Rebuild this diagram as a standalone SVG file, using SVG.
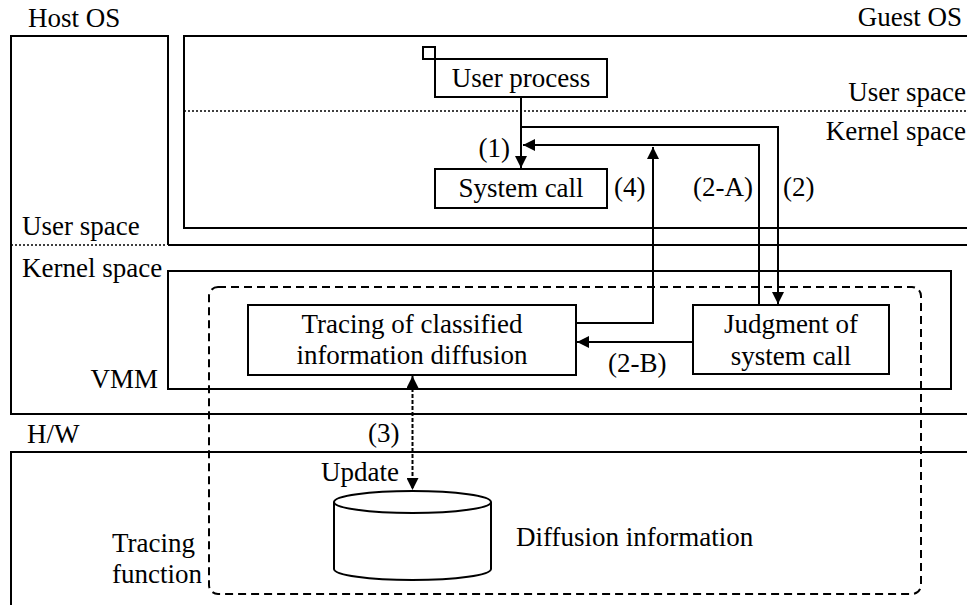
<svg xmlns="http://www.w3.org/2000/svg" width="967" height="605" viewBox="0 0 967 605" font-family="Liberation Serif, DejaVu Serif, serif" font-size="27">
<style>
.m{text-anchor:middle}
.e{text-anchor:end}
.ln{fill:none;stroke:#000;stroke-width:2}
.box{fill:#fff;stroke:#000;stroke-width:2}
.dot{fill:none;stroke:#000;stroke-width:1.6;stroke-dasharray:2 2}
.dash{fill:none;stroke:#000;stroke-width:2;stroke-dasharray:8 5}
.fdash{fill:none;stroke:#000;stroke-width:2;stroke-dasharray:4 2}
</style>
<defs>
<marker id="ah" viewBox="0 0 12 12" refX="12" refY="6" markerWidth="12" markerHeight="12" markerUnits="userSpaceOnUse" orient="auto-start-reverse">
<path d="M0,0 L12,6 L0,12 z" fill="#000" stroke="none"/>
</marker>
</defs>
<g id="host-os">
<path class="ln" d="M168,245 V36 H11 V414 H967"/>
<path class="ln" d="M168,245 H967"/>
<path class="dot" d="M11,245 H166"/>
<text x="28" y="27" font-family="Liberation Serif, serif">Host OS</text>
<text x="22" y="235">User space</text>
<text x="22" y="277">Kernel space</text>
</g>
<g id="guest-os">
<path class="ln" d="M967,36 H184 V228 H967"/>
<path class="dot" d="M184,111 H967"/>
<text class="e" x="962" y="26">Guest OS</text>
<text class="e" x="966" y="101">User space</text>
<text class="e" x="966" y="140">Kernel space</text>
</g>
<g id="hw">
<path class="ln" d="M11,605 V452 H967"/>
<text x="27" y="443">H/W</text>
</g>
<g id="vmm">
<rect class="ln" x="168" y="271" width="783" height="118"/>
<text class="e" x="158" y="388">VMM</text>
</g>
<g id="tracing-function">
<rect class="dash" x="209" y="287" width="712" height="307" rx="9"/>
<text x="112" y="552">Tracing</text>
<text x="112" y="583">function</text>
</g>
<g id="user-process">
<rect class="box" x="423" y="47" width="12" height="12"/>
<rect class="box" x="435" y="59" width="172" height="38"/>
<text class="m" x="521" y="87">User process</text>
</g>
<g id="system-call">
<rect class="box" x="435" y="169" width="172" height="39"/>
<text class="m" x="521" y="197">System call</text>
</g>
<g id="tracing-box">
<rect class="box" x="248" y="305" width="328" height="70"/>
<text class="m" x="412" y="333">Tracing of classified</text>
<text class="m" x="412" y="364">information diffusion</text>
</g>
<g id="judgment">
<rect class="box" x="693" y="305" width="196" height="69"/>
<text class="m" x="791" y="333">Judgment of</text>
<text class="m" x="791" y="365">system call</text>
</g>
<g id="diffusion-info">
<path class="box" d="M334,502 V569 A78.5,11 0 0 0 491,569 V502"/>
<ellipse class="box" cx="412.5" cy="502" rx="78.5" ry="11"/>
<text x="516" y="546">Diffusion information</text>
</g>
<g id="connectors">
<path class="ln" d="M521,97 V168" marker-end="url(#ah)"/>
<path class="ln" d="M521,127 H778 V304" marker-end="url(#ah)"/>
<path class="ln" d="M759,305 V145 H523" marker-end="url(#ah)"/>
<path class="ln" d="M576,323 H653 V147" marker-end="url(#ah)"/>
<path class="ln" d="M693,342 H577" marker-end="url(#ah)"/>
<path class="fdash" d="M412.5,376 V490" marker-start="url(#ah)" marker-end="url(#ah)"/>
<text class="e" x="510" y="157">(1)</text>
<text x="614" y="196">(4)</text>
<text x="693" y="196">(2-A)</text>
<text x="783" y="196">(2)</text>
<text x="608" y="372">(2-B)</text>
<text x="368" y="442">(3)</text>
<text x="321" y="481">Update</text>
</g>
</svg>
